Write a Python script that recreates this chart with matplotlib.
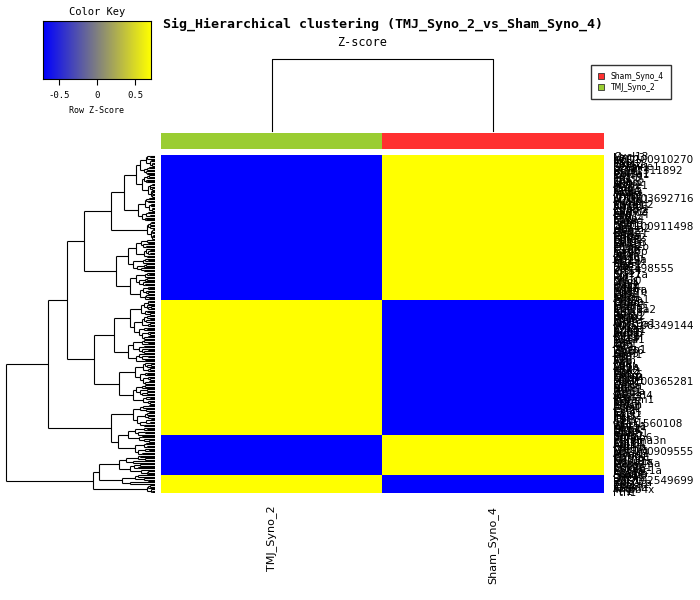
import numpy as np
import matplotlib
matplotlib.use("Agg")
import matplotlib.pyplot as plt
from matplotlib.colors import LinearSegmentedColormap
from matplotlib.patches import Patch
from matplotlib.collections import LineCollection

W, H = 700, 600


def box(x0, y0, x1, y1):
    # pixel box (origin top left) -> figure coordinates
    return [x0 / W, 1 - y1 / H, (x1 - x0) / W, (y1 - y0) / H]


samples = ["TMJ_Syno_2", "Sham_Syno_4"]
side_colors = ["#9ACD32", "#FF3030"]
legend_labels = ["Sham_Syno_4", "TMJ_Syno_2"]
legend_colors = ["#FF3030", "#9ACD32"]

# row blocks, top to bottom: number of genes and row z-score of TMJ_Syno_2
block_sizes = [103, 96, 28, 13]
block_tmj_z = [-0.707, 0.707, -0.707, 0.707]

# row dendrogram: leaf groups (size, height of their top merge)
group_sizes = [30, 17, 13, 23, 20, 28, 16, 16, 14, 16, 11, 9, 14, 7, 6]
group_heights = [19, 17, 8, 27, 25, 25, 27, 20, 22, 22, 27, 20, 36, 33, 8]
# merges above the groups: (height, left, right), int = group index
row_tree = (149,
            (107,
             (88,
              (71, (44, (31, 0, 1), 2), (39, 3, 4)),
              (61, (41, 5, 6), (36, 7, 8))),
             (44, 9, (37, 10, 11))),
            (62, (56, 12, 13), 14))
# split shares and height drops used inside the groups
split_share = [0.45, 0.6, 0.35, 0.55, 0.5, 0.4, 0.65]
height_drop = [0.8, 0.6, 0.85, 0.7, 0.75, 0.55]

gene_names = """
Cxcl13 Mmp3 LOC100910270 Ccl7 Il1b Ptgs2 Timp1 Serpine1 Hmox1 Lcn2
RGD1311892 Spp1 Col1a1 Col3a1 Postn Tnc Fn1 Lox Sparc Thbs2
Acta2 Myh11 Des Cnn1 Tagln Ckm Actn3 Mylpf Tnnt3 Tnni2
LOC103692716 Atp2a1 Pvalb Myl1 Mybpc2 Casq1 Ampd1 Eno3 Pgam2 Ckmt2
Adipoq Lep Cfd Plin1 Fabp4 Lpl Cidec Retn Pparg Scd1
LOC100911498 Hba-a2 Hbb Alas2 Car2 Slc4a1 Gypa Rhd Epb42 Spta1
Cd68 Cd163 Mrc1 Lyve1 Fcgr2b C1qa C1qb C1qc Tyrobp Aif1
Ighm Igkc Jchain Cd79a Cd19 Ms4a1 Cr2 Fcer2 Pax5 Blk
LOC498555 Krt14 Krt5 Krt17 Sprr1a Lor Flg Ivl Krt10 Dsg1
Prg4 Has1 Has2 Cd44 Thy1 Pdgfra Pdgfrb Dpt Pi16 Cd34
Sox9 Acan Col2a1 Comp Chad Cilp Matn3 Ucma Col9a1 Col11a2
Ibsp Bglap Sp7 Runx2 Dmp1 Phex Sost Mepe Alpl Col10a1
LOC108349144 Mki67 Top2a Ccnb1 Cdk1 Bub1 Aurkb Kif11 Cenpf Birc5
Nr4a1 Fos Jun Egr1 Atf3 Klf4 Ier3 Dusp1 Zfp36 Junb
Saa3 Orm1 Hp Lbp Cp A2m Fgb Fga Fgg Apoh
Mt1 Mt2A Sod2 Gpx3 Cat Prdx6 Txnip Nqo1 Gsta4 Mgst1
LOC100365281 Penk Tac1 Calca Ngf Bdnf Ntrk1 Scn9a Trpv1 Gal
Angptl4 Vegfa Kdr Pecam1 Cdh5 Tek Emcn Plvap Aqp1 Esm1
Ccl2 Ccl3 Ccl4 Cxcl1 Cxcl2 Il6 Osm Csf3 Il11 Lif
RGD1560108 Wnt5a Wnt11 Sfrp2 Sfrp4 Dkk3 Frzb Grem1 Bmp2 Bmp7
Tnfaip6 Ptx3 Serpina3n Chi3l1 Chil3 Arg1 Retnla Ear11 Clec7a Msr1
LOC100909555 Ankrd1 Myog Myod1 Chrna1 Chrng Nes Cdkn1a Gadd45a Mdm2
Ucp1 Cox7a1 Cox8b Ppargc1a Cpt1b Acadm Hadha Ech1 Decr1 Pdk4
LOC102549699 Rpl21 Rps27a Eef1a1 Tpt1 Gapdh Actb Tmsb4x Ftl1 Fth1
""".split()

n_rows = sum(block_sizes)
tmj = np.repeat(block_tmj_z, block_sizes)
z = np.column_stack([tmj, -tmj])

cmap = LinearSegmentedColormap.from_list("by", ["blue", "yellow"])
zmax = 0.707

fig = plt.figure(figsize=(7, 6), dpi=100)

# ---- row dendrogram
segs = []
group_start = np.concatenate([[0], np.cumsum(group_sizes)[:-1]])


def draw_group(n, h, start, k):
    if n == 1:
        return start, 0.0
    nl = int(round(n * split_share[k % len(split_share)]))
    nl = max(1, min(n - 1, nl))
    pl, hl = draw_group(nl, h * height_drop[k % len(height_drop)], start, k + 1)
    pr, hr = draw_group(n - nl, h * height_drop[(k + 3) % len(height_drop)], start + nl, k + 2)
    segs.append([(h, pl), (h, pr)])
    segs.append([(h, pl), (hl, pl)])
    segs.append([(h, pr), (hr, pr)])
    return (pl + pr) / 2, h


def draw_tree(node):
    if isinstance(node, int):
        return draw_group(group_sizes[node], group_heights[node], group_start[node], node)
    h, left, right = node
    pl, hl = draw_tree(left)
    pr, hr = draw_tree(right)
    segs.append([(h, pl), (h, pr)])
    segs.append([(h, pl), (hl, pl)])
    segs.append([(h, pr), (hr, pr)])
    return (pl + pr) / 2, h


draw_tree(row_tree)
ax_rd = fig.add_axes(box(5, 155, 155, 493))
ax_rd.add_collection(LineCollection(segs, colors="black", linewidths=0.8))
ax_rd.set_xlim(150, 0)
ax_rd.set_ylim(n_rows - 0.5, -0.5)
ax_rd.axis("off")

# ---- heatmap
ax_hm = fig.add_axes(box(161, 155, 604, 493))
ax_hm.imshow(z, cmap=cmap, vmin=-zmax, vmax=zmax, aspect="auto",
             interpolation="nearest")
ax_hm.set_xticks(range(len(samples)))
ax_hm.set_xticklabels(samples, rotation=90, fontsize=8, va="top")
ax_hm.tick_params(axis="x", length=0, pad=9)
ax_hm.yaxis.tick_right()
ax_hm.set_yticks(range(n_rows))
ax_hm.set_yticklabels(gene_names[:n_rows], fontsize=7.5)
ax_hm.tick_params(axis="y", length=0, pad=6.5)
for s in ax_hm.spines.values():
    s.set_visible(False)

# ---- column side colours
ax_sc = fig.add_axes(box(161, 133, 604, 149))
ax_sc.imshow([[matplotlib.colors.to_rgb(c) for c in side_colors]],
             aspect="auto", interpolation="nearest")
ax_sc.axis("off")

# ---- column dendrogram
ax_cd = fig.add_axes(box(161, 59, 604, 131))
ax_cd.plot([0, 0, 1, 1], [0, 1, 1, 0], color="black", lw=0.8, clip_on=False)
ax_cd.set_xlim(-0.5, len(samples) - 0.5)
ax_cd.set_ylim(0, 1.0)
ax_cd.axis("off")

# ---- colour key
ax_key = fig.add_axes(box(43, 21, 151, 79))
grad = np.linspace(-zmax, zmax, 256).reshape(1, -1)
ax_key.imshow(grad, cmap=cmap, vmin=-zmax, vmax=zmax, aspect="auto",
              extent=(-zmax, zmax, 0, 1))
ax_key.set_xticks([-0.5, 0, 0.5])
ax_key.set_xticklabels(["-0.5", "0", "0.5"], family="DejaVu Sans Mono", fontsize=6.5)
ax_key.set_yticks([])
ax_key.tick_params(axis="x", length=4, width=0.8, pad=5)
ax_key.set_xlabel("Row Z-Score", family="DejaVu Sans Mono", fontsize=6, labelpad=4)
ax_key.set_title("Color Key", family="DejaVu Sans Mono", fontsize=7.5, pad=4)
for s in ax_key.spines.values():
    s.set_linewidth(0.8)

# ---- titles
fig.text(383 / W, 1 - 24 / H, "Sig_Hierarchical clustering (TMJ_Syno_2_vs_Sham_Syno_4)",
         ha="center", va="center", family="DejaVu Sans Mono", weight="bold", fontsize=9.5)
fig.text(362 / W, 1 - 43 / H, "Z-score", ha="center", va="center",
         family="DejaVu Sans Mono", fontsize=8.5)

# ---- legend
handles = [Patch(facecolor=c, edgecolor="#333333", linewidth=0.6) for c in legend_colors]
fig.legend(handles, legend_labels, loc="upper left",
           bbox_to_anchor=(587 / W, 1 - 61 / H), fontsize=5.5, frameon=True,
           fancybox=False, edgecolor="black", handlelength=0.8, handleheight=0.8,
           borderpad=0.9, labelspacing=0.3, handletextpad=0.9)

fig.savefig("out.png", dpi=100)
